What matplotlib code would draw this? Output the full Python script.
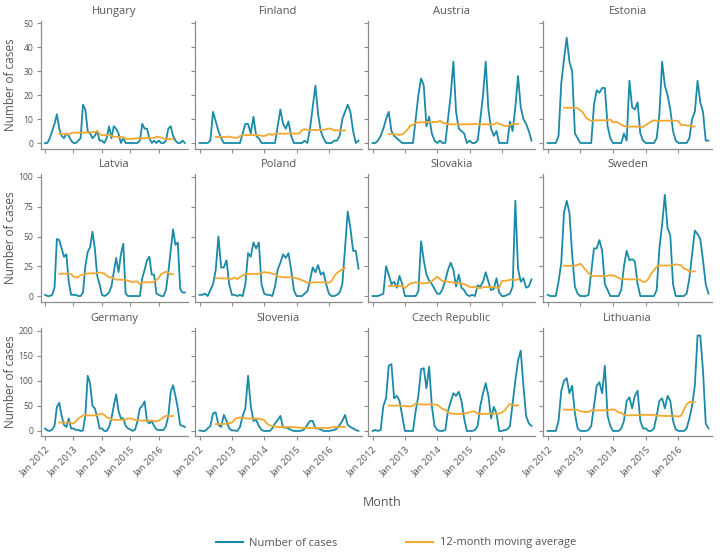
import matplotlib
matplotlib.use("Agg")
import matplotlib.pyplot as plt
from matplotlib.lines import Line2D
import numpy as np
import pandas as pd

plt.rcParams["font.family"] = ["Open Sans", "DejaVu Sans"]

TEAL = "#1a8aa8"
ORANGE = "#f3a830"
GREY = "#555555"
AXIS = "#8c8c8c"

tick_labels = ["Jan 2012", "Jan 2013", "Jan 2014", "Jan 2015", "Jan 2016"]

# monthly cases, Jan 2012 .. Dec 2016
hungary = [0, 0, 2, 5, 8, 12, 6, 3, 2, 4, 3, 1,
           0, 0, 1, 2, 16, 14, 5, 4, 2, 3, 5, 1,
           1, 0, 2, 7, 2, 7, 6, 4, 0, 2, 0, 0,
           0, 0, 0, 0, 1, 8, 6, 6, 2, 0, 1, 0,
           1, 0, 0, 1, 6, 7, 3, 1, 0, 0, 1, 0]
finland = [0, 0, 0, 0, 1, 13, 9, 5, 2, 0, 0, 0,
           0, 0, 0, 0, 4, 8, 8, 4, 11, 3, 2, 0,
           0, 0, 0, 0, 0, 7, 14, 8, 6, 9, 3, 0,
           0, 0, 0, 1, 0, 6, 15, 24, 12, 5, 2, 0,
           0, 0, 1, 1, 3, 10, 13, 16, 13, 5, 0, 1]
austria = [0, 0, 1, 3, 6, 10, 13, 5, 3, 2, 1, 0,
           0, 0, 0, 0, 10, 20, 27, 24, 7, 11, 4, 1,
           0, 1, 0, 0, 10, 20, 34, 13, 6, 5, 4, 0,
           1, 0, 0, 1, 10, 20, 34, 14, 6, 3, 5, 0,
           0, 0, 0, 9, 5, 15, 28, 15, 10, 8, 5, 1]
estonia = [0, 0, 0, 0, 3, 25, 35, 44, 34, 30, 4, 2,
           0, 0, 0, 0, 0, 16, 22, 21, 23, 23, 7, 2,
           0, 0, 0, 0, 4, 1, 26, 15, 14, 17, 4, 1,
           0, 0, 0, 0, 2, 12, 34, 24, 20, 14, 5, 1,
           0, 0, 0, 0, 2, 10, 13, 26, 17, 13, 1, 1]
latvia = [1, 0, 0, 1, 7, 48, 47, 40, 33, 35, 12, 1,
          1, 1, 0, 0, 3, 25, 37, 41, 54, 40, 17, 10,
          1, 0, 1, 3, 8, 20, 32, 20, 35, 44, 2, 0,
          0, 0, 0, 0, 0, 15, 22, 30, 33, 18, 18, 2,
          1, 0, 0, 5, 20, 38, 56, 43, 45, 6, 3, 3]
poland = [1, 1, 2, 0, 5, 10, 22, 50, 24, 24, 30, 10,
          1, 1, 0, 1, 0, 10, 36, 33, 45, 40, 45, 10,
          2, 1, 1, 0, 8, 22, 28, 35, 32, 36, 22, 5,
          0, 0, 0, 2, 4, 13, 24, 20, 26, 18, 20, 10,
          2, 0, 0, 1, 3, 10, 40, 71, 57, 38, 38, 23]
slovakia = [0, 0, 0, 1, 2, 25, 18, 10, 12, 7, 17, 10,
            0, 0, 0, 0, 0, 4, 46, 30, 18, 13, 10, 6,
            2, 2, 6, 13, 22, 28, 22, 8, 18, 7, 5, 1,
            0, 1, 0, 9, 8, 12, 20, 12, 5, 6, 15, 3,
            0, 0, 1, 2, 8, 80, 23, 12, 15, 7, 8, 14]
sweden = [1, 0, 0, 0, 12, 28, 70, 80, 70, 35, 8, 2,
          0, 0, 0, 1, 20, 40, 40, 47, 38, 10, 5, 0,
          0, 0, 0, 5, 25, 38, 30, 31, 29, 10, 0, 0,
          0, 0, 0, 0, 5, 40, 60, 85, 57, 51, 10, 0,
          0, 0, 0, 2, 15, 35, 55, 52, 48, 30, 10, 2]
germany = [5, 1, 0, 3, 10, 48, 56, 30, 12, 8, 25, 5,
           5, 2, 2, 0, 1, 30, 110, 95, 50, 45, 28, 5,
           5, 0, 0, 8, 25, 50, 73, 40, 25, 25, 10, 5,
           3, 0, 3, 20, 45, 50, 59, 20, 15, 20, 10, 3,
           2, 2, 2, 10, 30, 78, 91, 70, 45, 12, 10, 8]
slovenia = [1, 0, 0, 5, 10, 35, 37, 12, 8, 32, 20, 5,
            1, 1, 0, 8, 30, 45, 110, 50, 20, 22, 10, 2,
            0, 0, 0, 5, 15, 22, 30, 7, 7, 5, 2, 0,
            0, 0, 1, 4, 12, 20, 20, 5, 5, 3, 0, 0,
            0, 1, 2, 5, 12, 20, 32, 12, 8, 5, 2, 0]
czech = [0, 2, 0, 2, 50, 65, 130, 133, 65, 70, 60, 30,
         0, 0, 0, 0, 40, 70, 123, 125, 85, 128, 50, 10,
         2, 0, 0, 2, 40, 58, 75, 70, 78, 60, 25, 0,
         0, 0, 2, 10, 50, 75, 95, 70, 25, 48, 35, 0,
         0, 2, 3, 10, 55, 100, 140, 160, 90, 30, 15, 10]
lithuania = [0, 0, 0, 0, 20, 80, 100, 105, 75, 90, 35, 5,
             0, 0, 0, 2, 10, 50, 90, 97, 75, 130, 30, 10,
             0, 0, 0, 5, 20, 60, 67, 45, 70, 80, 20, 5,
             5, 0, 0, 5, 30, 60, 65, 45, 70, 60, 20, 3,
             0, 0, 0, 5, 25, 50, 90, 190, 190, 120, 15, 5]

countries = ["Hungary", "Finland", "Austria", "Estonia",
             "Latvia", "Poland", "Slovakia", "Sweden",
             "Germany", "Slovenia", "Czech Republic", "Lithuania"]
series = [hungary, finland, austria, estonia,
          latvia, poland, slovakia, sweden,
          germany, slovenia, czech, lithuania]

row_ticks = [[0, 10, 20, 30, 40, 50], [0, 25, 50, 75, 100], [0, 50, 100, 150, 200]]
row_ylim = [(-2.5, 51.2), (-5, 102.5), (-10, 205)]

W, H = 725, 558
col_px = [(41, 188), (195, 362), (368, 535), (543, 712)]
row_px = [(20.5, 149), (174, 302), (328, 436)]

fig = plt.figure(figsize=(W / 100, H / 100), dpi=100)

months = np.arange(60)
for i, (name, vals) in enumerate(zip(countries, series)):
    r, c = divmod(i, 4)
    x0, x1 = col_px[c]
    y0, y1 = row_px[r]
    ax = fig.add_axes([x0 / W, 1 - y1 / H, (x1 - x0) / W, (y1 - y0) / H])
    cases = pd.Series(vals, dtype=float)
    ma = cases.rolling(12, center=True).mean()
    ax.plot(months, cases, color=TEAL, lw=1.3, zorder=2)
    ax.plot(months, ma, color=ORANGE, lw=1.3, zorder=3)
    ax.set_xlim(-1.7, 60.3)
    ax.set_ylim(*row_ylim[r])
    ax.set_yticks(row_ticks[r])
    ax.set_xticks([0, 12, 24, 36, 48])
    for side in ("top", "right"):
        ax.spines[side].set_visible(False)
    for side in ("left", "bottom"):
        ax.spines[side].set_color(AXIS)
        ax.spines[side].set_linewidth(0.9)
    ax.tick_params(colors=AXIS, length=3, width=0.8, labelcolor=GREY, labelsize=6.2)
    ax.tick_params(axis="y", pad=2.5)
    if c == 0:
        fig.text(10.5 / W, 1 - (y0 + y1) / 2 / H, "Number of cases", rotation=90,
                 ha="center", va="center", fontsize=8.5, color=GREY)
    else:
        ax.set_yticklabels([])
    if r == 2:
        ax.set_xticklabels(tick_labels, rotation=45, ha="right", rotation_mode="anchor",
                           fontsize=6.8)
    else:
        ax.set_xticklabels([])
    ax.set_title(name, fontsize=8, color=GREY, pad=5)

fig.text(382 / W, 1 - 502 / H, "Month", ha="center", va="center", fontsize=9, color=GREY)

handles = [Line2D([], [], color=TEAL, lw=1.5), Line2D([], [], color=ORANGE, lw=1.5)]
fig.legend(handles, ["Number of cases", "12-month moving average"], loc="center",
           bbox_to_anchor=(396 / W, 1 - 543 / H), ncol=2, frameon=False, fontsize=8,
           labelcolor=GREY, handlelength=2.4, handletextpad=0.6, columnspacing=6.2)

fig.savefig("out.png", dpi=100)
